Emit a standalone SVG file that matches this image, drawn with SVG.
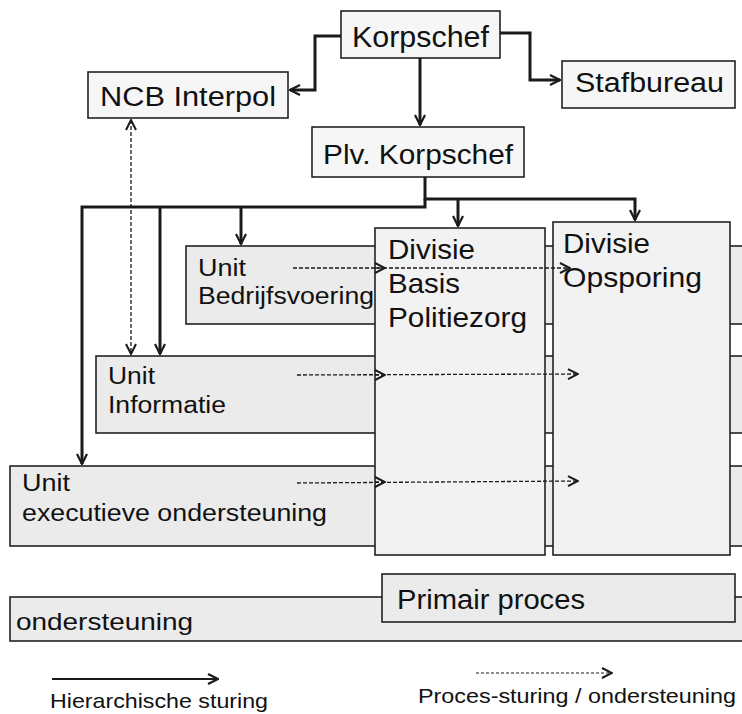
<svg xmlns="http://www.w3.org/2000/svg" width="742" height="714" viewBox="0 0 742 714">
<defs>
<marker id="ah" viewBox="0 0 12 12" refX="11" refY="6" markerWidth="12" markerHeight="12" markerUnits="userSpaceOnUse" orient="auto">
<path d="M1,1 L11,6 L1,11" fill="none" stroke="#1a1a1a" stroke-width="2.2"/>
</marker>
<marker id="dh" viewBox="0 0 12 12" refX="11" refY="6" markerWidth="12" markerHeight="12" markerUnits="userSpaceOnUse" orient="auto-start-reverse">
<path d="M1,1 L11,6 L1,11" fill="none" stroke="#1a1a1a" stroke-width="2"/>
</marker>
</defs>
<style>
.box{fill:#ebebeb;stroke:#222;stroke-width:1.6}
.top{fill:#f6f6f6;stroke:#222;stroke-width:1.6}
.div{fill:#f2f2f2;stroke:#222;stroke-width:1.6}
text{font-family:"Liberation Sans",Arial,sans-serif;fill:#111}
.h{fill:none;stroke:#1a1a1a;stroke-width:3}
.d{fill:none;stroke:#1a1a1a;stroke-width:1.3;stroke-dasharray:4 2}
</style>
<rect width="742" height="714" fill="#fff"/>

<g id="unit-executieve">
<rect class="box" x="10" y="466" width="760" height="80"/>
<text x="22" y="491" font-size="23" textLength="48" lengthAdjust="spacingAndGlyphs">Unit</text>
<text x="22" y="521" font-size="23" textLength="305" lengthAdjust="spacingAndGlyphs">executieve ondersteuning</text>
</g>
<g id="unit-informatie">
<rect class="box" x="96" y="356" width="680" height="77"/>
<text x="108" y="384" font-size="23" textLength="47" lengthAdjust="spacingAndGlyphs">Unit</text>
<text x="108" y="413" font-size="23" textLength="118" lengthAdjust="spacingAndGlyphs">Informatie</text>
</g>
<g id="unit-bedrijfsvoering">
<rect class="box" x="186" y="246" width="590" height="78"/>
<text x="198" y="276" font-size="23" textLength="48" lengthAdjust="spacingAndGlyphs">Unit</text>
<text x="198" y="304" font-size="23" textLength="176" lengthAdjust="spacingAndGlyphs">Bedrijfsvoering</text>
</g>

<g id="divisie-bp">
<rect class="div" x="375" y="228" width="170" height="327"/>
<text x="388" y="259" font-size="28" textLength="87" lengthAdjust="spacingAndGlyphs">Divisie</text>
<text x="388" y="293" font-size="28" textLength="72" lengthAdjust="spacingAndGlyphs">Basis</text>
<text x="388" y="327" font-size="28" textLength="139" lengthAdjust="spacingAndGlyphs">Politiezorg</text>
</g>
<g id="divisie-opsporing">
<rect class="div" x="553" y="222" width="177" height="333"/>
<text x="563" y="253" font-size="28" textLength="87" lengthAdjust="spacingAndGlyphs">Divisie</text>
<text x="563" y="287" font-size="28" textLength="139" lengthAdjust="spacingAndGlyphs">Opsporing</text>
</g>

<g id="ondersteuning">
<rect class="box" x="10" y="597" width="760" height="44"/>
<text x="16" y="630" font-size="24" textLength="177" lengthAdjust="spacingAndGlyphs">ondersteuning</text>
</g>
<g id="primair-proces">
<rect class="box" x="382" y="574" width="353" height="48"/>
<text x="397" y="609" font-size="27" textLength="188" lengthAdjust="spacingAndGlyphs">Primair proces</text>
</g>

<g id="korpschef">
<rect class="top" x="341" y="11" width="159" height="47"/>
<text x="352" y="47" font-size="29" textLength="137" lengthAdjust="spacingAndGlyphs">Korpschef</text>
</g>
<g id="ncb-interpol">
<rect class="top" x="88" y="72" width="200" height="46"/>
<text x="100" y="106" font-size="27" textLength="176" lengthAdjust="spacingAndGlyphs">NCB Interpol</text>
</g>
<g id="stafbureau">
<rect class="top" x="562" y="61" width="173" height="47"/>
<text x="575" y="92" font-size="27" textLength="149" lengthAdjust="spacingAndGlyphs">Stafbureau</text>
</g>
<g id="plv-korpschef">
<rect class="top" x="312" y="127" width="212" height="50"/>
<text x="323" y="164" font-size="28" textLength="190" lengthAdjust="spacingAndGlyphs">Plv. Korpschef</text>
</g>

<g id="connectors">
<polyline class="h" points="341,36 315,36 315,90 290,90" marker-end="url(#ah)"/>
<polyline class="h" points="500,33 530,33 530,80 560,80" marker-end="url(#ah)"/>
<line class="h" x1="420" y1="58" x2="420" y2="125" marker-end="url(#ah)"/>
<polyline class="h" points="425,177 425,199 635,199 635,220" marker-end="url(#ah)"/>
<line class="h" x1="458" y1="199" x2="458" y2="226" marker-end="url(#ah)"/>
<polyline class="h" points="425,199 425,207 82,207 82,464" marker-end="url(#ah)"/>
<line class="h" x1="160" y1="207" x2="160" y2="354" marker-end="url(#ah)"/>
<line class="h" x1="241" y1="207" x2="241" y2="244" marker-end="url(#ah)"/>

<line class="d" x1="131" y1="120" x2="131" y2="354" marker-start="url(#dh)" marker-end="url(#dh)"/>
<line class="d" x1="293" y1="268" x2="570" y2="268" marker-end="url(#dh)"/>
<path class="d" d="M375,268 l10,0" marker-end="url(#dh)"/>
<line class="d" x1="297" y1="375" x2="578" y2="374" marker-end="url(#dh)"/>
<path class="d" d="M375,375 l10,0" marker-end="url(#dh)"/>
<line class="d" x1="297" y1="483" x2="578" y2="481" marker-end="url(#dh)"/>
<path class="d" d="M375,482 l10,0" marker-end="url(#dh)"/>
</g>

<g id="legend">
<line x1="52" y1="679" x2="218" y2="679" stroke="#1a1a1a" stroke-width="1.8" marker-end="url(#ah)"/>
<text x="50" y="708" font-size="21" textLength="218" lengthAdjust="spacingAndGlyphs">Hierarchische sturing</text>
<line x1="476" y1="673" x2="612" y2="673" stroke="#1a1a1a" stroke-width="1.2" stroke-dasharray="3 2" marker-end="url(#dh)"/>
<text x="418" y="703" font-size="21" textLength="318" lengthAdjust="spacingAndGlyphs">Proces-sturing / ondersteuning</text>
</g>
</svg>
